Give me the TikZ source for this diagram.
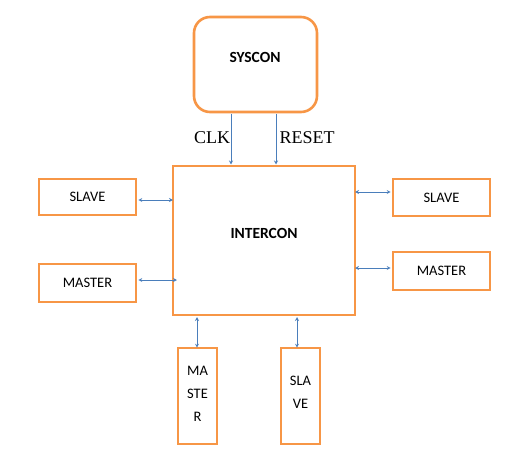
\documentclass[tikz,border=0pt]{standalone}
\usepackage{fontspec}
\setmainfont{Carlito}
\newfontfamily\seriffont{Liberation Serif}
\usetikzlibrary{arrows.meta}
\definecolor{boxorange}{HTML}{F79646}
\definecolor{arrowblue}{HTML}{4A7EBB}
\begin{document}
\begin{tikzpicture}[x=1pt,y=-1pt,
  blk/.style={draw=boxorange,line width=2.6pt,fill=white,inner sep=0pt},
  lbl/.style={font=\fontsize{14.5}{17}\selectfont,align=center},
  conn/.style={draw=arrowblue,line width=0.8pt,{Stealth[length=4pt,width=4pt,open]}-{Stealth[length=4pt,width=4pt,open]}},
  down/.style={draw=arrowblue,line width=0.8pt,-{Stealth[length=4pt,width=4pt,open]}}]
\useasboundingbox (0,0) rectangle (522,463);
% boxes
\node[blk,rounded corners=16pt,minimum width=123pt,minimum height=95pt] (syscon) at (255.5,64.5) {};
\node[font=\bfseries\fontsize{15.5}{18}\selectfont] at (255,57) {SYSCON};
\node[blk,minimum width=182pt,minimum height=149pt] (intercon) at (264,240.5) {};
\node[font=\bfseries\fontsize{15.5}{18}\selectfont] at (264,233) {INTERCON};
\node[blk,lbl,minimum width=97pt,minimum height=36pt] (ls) at (87.5,197) {SLAVE};
\node[blk,lbl,minimum width=97pt,minimum height=38pt] (lm) at (87.5,283) {MASTER};
\node[blk,lbl,minimum width=97pt,minimum height=37pt] (rs) at (441.5,197.5) {SLAVE};
\node[blk,lbl,minimum width=97pt,minimum height=38pt] (rm) at (441.5,271) {MASTER};
\node[blk,minimum width=39pt,minimum height=96pt] (bm) at (197.5,396) {};
\node[lbl,text width=39pt,font=\fontsize{14.5}{23}\selectfont] at (197.5,394) {MA\\STE\\R};
\node[blk,minimum width=39pt,minimum height=96pt] (bs) at (300.5,396) {};
\node[lbl,text width=39pt,font=\fontsize{14.5}{23}\selectfont] at (300.5,392) {SLA\\VE};
% signal labels
\node[font=\seriffont\fontsize{18}{20}\selectfont] at (212,138) {CLK};
\node[font=\seriffont\fontsize{18}{20}\selectfont] at (307,138) {RESET};
% arrows
\coordinate (clkS) at (231,113.5);
\coordinate (clkE) at (231,164.5);
\coordinate (rstS) at (276,113.5);
\coordinate (rstE) at (276,164.5);
\draw[down] (clkS) -- (clkE);
\draw[down] (rstS) -- (rstE);
\draw[conn] (ls.east |- 0,200) ++(1,0) -- (173,200);
\draw[conn] (lm.east |- 0,280) ++(1,0) -- (177,280);
\draw[conn] (355,192) -- ([xshift=-1pt]rs.west |- 0,192);
\draw[conn] (355,268) -- ([xshift=-1pt]rm.west |- 0,268);
\draw[conn] (197,317) -- ([yshift=-1pt]bm.north -| 197,0);
\draw[conn] (297,317) -- ([yshift=-1pt]bs.north -| 297,0);
\end{tikzpicture}
\end{document}
